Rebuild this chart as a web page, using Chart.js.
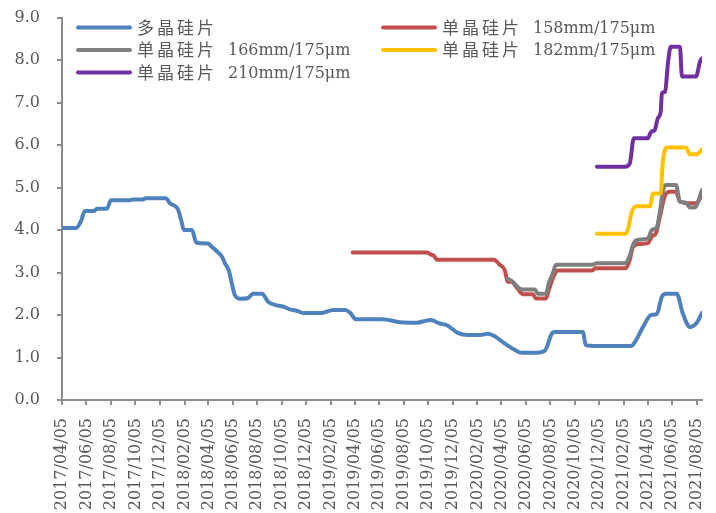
<!DOCTYPE html>
<html>
<head>
<meta charset="utf-8">
<script src="https://cdn.jsdelivr.net/npm/chart.js@4.4.1/dist/chart.umd.min.js"></script>
<style>
  html, body { margin: 0; padding: 0; background: #ffffff; }
  #wrap { width: 716px; height: 513px; }
</style>
</head>
<body>
<div id="wrap"><canvas id="c"></canvas></div>
<script>
// Wafer prices (元/片), weekly quotes, start 2017-04-05
const seriesNames = [
  '多晶硅片',
  '单晶硅片 158mm/175μm',
  '单晶硅片 166mm/175μm',
  '单晶硅片 182mm/175μm',
  '单晶硅片 210mm/175μm'
];
const seriesColors = ['#4F81BD', '#C0504D', '#7F7F7F', '#FFC000', '#7030A0'];

const tickLabels = [
  '2017/04/05','2017/06/05','2017/08/05','2017/10/05','2017/12/05',
  '2018/02/05','2018/04/05','2018/06/05','2018/08/05','2018/10/05','2018/12/05',
  '2019/02/05','2019/04/05','2019/06/05','2019/08/05','2019/10/05','2019/12/05',
  '2020/02/05','2020/04/05','2020/06/05','2020/08/05','2020/10/05','2020/12/05',
  '2021/02/05','2021/04/05','2021/06/05','2021/08/05'
];
const axisEndDate = '2021-08-18';

const polyDates = ['2017-04-05','2017-05-10','2017-05-22','2017-06-01','2017-06-24','2017-07-01','2017-07-26','2017-08-05','2017-09-22','2017-09-27','2017-10-24','2017-10-31','2017-12-20','2017-12-30','2018-01-14','2018-01-19','2018-01-27','2018-02-03','2018-02-23','2018-03-05','2018-03-13','2018-04-04','2018-04-14','2018-04-26','2018-05-09','2018-05-16','2018-05-26','2018-06-03','2018-06-10','2018-06-23','2018-07-13','2018-07-25','2018-08-17','2018-09-01','2018-09-18','2018-10-08','2018-10-23','2018-11-12','2018-11-27','2019-01-13','2019-02-10','2019-03-12','2019-03-24','2019-04-08','2019-06-14','2019-07-27','2019-09-07','2019-10-02','2019-10-12','2019-11-03','2019-11-21','2019-12-18','2020-01-12','2020-02-11','2020-03-02','2020-03-19','2020-04-13','2020-05-08','2020-05-26','2020-06-27','2020-07-22','2020-08-09','2020-08-16','2020-10-25','2020-11-01','2020-11-24','2021-02-22','2021-03-04','2021-03-24','2021-04-13','2021-04-27','2021-05-10','2021-05-20','2021-06-16','2021-07-01','2021-07-19','2021-08-05','2021-08-18'];
const polyPrices = [4.05,4.05,4.2,4.45,4.45,4.5,4.5,4.7,4.7,4.72,4.72,4.75,4.75,4.63,4.55,4.49,4.24,4.0,4.0,3.72,3.69,3.68,3.6,3.5,3.37,3.22,3.05,2.72,2.47,2.38,2.4,2.5,2.5,2.31,2.24,2.2,2.14,2.1,2.05,2.05,2.12,2.12,2.06,1.9,1.9,1.83,1.82,1.87,1.88,1.8,1.76,1.58,1.53,1.53,1.56,1.5,1.33,1.18,1.11,1.11,1.16,1.57,1.6,1.6,1.29,1.27,1.27,1.37,1.72,2.0,2.02,2.43,2.5,2.5,2.04,1.72,1.82,2.05];

const mono158Dates = ['2019-03-31','2019-10-02','2019-10-12','2019-10-19','2019-10-27','2020-03-17','2020-04-01','2020-04-13','2020-04-21','2020-05-01','2020-05-11','2020-05-21','2020-05-28','2020-06-22','2020-06-30','2020-07-25','2020-08-01','2020-08-19','2020-08-26','2020-11-16','2020-11-26','2021-02-09','2021-02-19','2021-02-27','2021-03-16','2021-04-05','2021-04-15','2021-04-25','2021-05-05','2021-05-18','2021-05-30','2021-06-14','2021-06-24','2021-07-19','2021-08-03','2021-08-18'];
const mono158Prices = [3.47,3.47,3.42,3.4,3.3,3.3,3.18,3.06,2.78,2.78,2.67,2.55,2.49,2.49,2.39,2.39,2.59,3.02,3.05,3.05,3.1,3.1,3.3,3.6,3.67,3.69,3.85,3.92,4.31,4.82,4.9,4.9,4.67,4.63,4.63,4.82];

const mono166Dates = ['2020-04-21','2020-05-03','2020-05-16','2020-05-26','2020-06-27','2020-07-05','2020-07-25','2020-08-01','2020-08-11','2020-08-19','2020-11-16','2020-11-29','2021-02-07','2021-02-19','2021-02-27','2021-03-08','2021-04-05','2021-04-15','2021-04-27','2021-05-05','2021-05-12','2021-05-20','2021-06-14','2021-06-24','2021-07-09','2021-07-19','2021-07-31','2021-08-18'];
const mono166Prices = [2.85,2.78,2.65,2.6,2.6,2.5,2.5,2.75,2.98,3.18,3.18,3.22,3.22,3.4,3.65,3.76,3.8,4.0,4.06,4.43,4.9,5.06,5.06,4.67,4.64,4.53,4.53,4.94];

const mono182Dates = ['2020-11-29','2021-02-07','2021-02-14','2021-02-24','2021-03-08','2021-04-10','2021-04-18','2021-05-07','2021-05-12','2021-05-22','2021-07-09','2021-07-19','2021-08-05','2021-08-18'];
const mono182Prices = [3.91,3.91,4.0,4.43,4.56,4.56,4.86,4.86,5.57,5.94,5.94,5.78,5.78,5.9];

const mono210Dates = ['2020-11-29','2021-02-07','2021-02-19','2021-03-01','2021-04-05','2021-04-13','2021-04-22','2021-04-30','2021-05-07','2021-05-10','2021-05-18','2021-05-25','2021-06-01','2021-06-24','2021-06-29','2021-08-03','2021-08-13','2021-08-18'];
const mono210Prices = [5.49,5.49,5.57,6.16,6.16,6.31,6.35,6.63,6.78,7.22,7.25,7.92,8.31,8.31,7.61,7.61,7.96,8.04];

// Day number relative to the first quote date
const ORIGIN = Date.UTC(2017, 3, 5);
function dayOf(s) {
  const p = s.split(/[-\/]/).map(Number);
  return Math.round((Date.UTC(p[0], p[1] - 1, p[2]) - ORIGIN) / 86400000);
}
function points(dates, values) {
  return dates.map((d, i) => ({ x: dayOf(d), y: values[i] }));
}

const seriesData = [
  points(polyDates, polyPrices),
  points(mono158Dates, mono158Prices),
  points(mono166Dates, mono166Prices),
  points(mono182Dates, mono182Prices),
  points(mono210Dates, mono210Prices)
];
const drawOrder = [4, 3, 2, 1, 0];

const TEXT = '#595959';
const AXIS = '#8C8C8C';
const LATIN = '"DejaVu Serif", serif';
const CJK = '"Noto Sans CJK SC", sans-serif';

// Two-column legend: series read left-to-right, top-to-bottom
const pairLegend = {
  id: 'pairLegend',
  afterDraw(chart) {
    const ctx = chart.ctx;
    const cols = [78, 383];
    const rows = [27.5, 50, 72.5];
    chart.data.datasets.forEach((ds, i) => {
      const x = cols[i % 2];
      const y = rows[Math.floor(i / 2)];
      ctx.save();
      ctx.strokeStyle = ds.borderColor;
      ctx.lineWidth = 4;
      ctx.lineCap = 'round';
      ctx.beginPath();
      ctx.moveTo(x, y);
      ctx.lineTo(x + 52, y);
      ctx.stroke();
      const sp = ds.label.indexOf(' ');
      const head = sp < 0 ? ds.label : ds.label.slice(0, sp);
      const tail = sp < 0 ? '' : ds.label.slice(sp + 1);
      ctx.fillStyle = TEXT;
      ctx.textBaseline = 'middle';
      ctx.textAlign = 'left';
      ctx.font = '17px ' + CJK;
      ctx.letterSpacing = '3px';
      ctx.fillText(head, x + 59, y);
      ctx.letterSpacing = '0px';
      if (tail) {
        ctx.font = '16px ' + LATIN;
        ctx.fillText(tail, x + 150, y + 1);
      }
      ctx.restore();
    });
  }
};

new Chart(document.getElementById('c'), {
  type: 'line',
  data: {
    datasets: seriesNames.map((name, i) => ({
      label: name,
      data: seriesData[i],
      borderColor: seriesColors[i],
      backgroundColor: seriesColors[i],
      borderWidth: 4,
      pointRadius: 0,
      fill: false,
      cubicInterpolationMode: 'monotone',
      borderCapStyle: 'round',
      borderJoinStyle: 'round',
      order: drawOrder[i]
    }))
  },
  options: {
    responsive: true,
    maintainAspectRatio: false,
    animation: false,
    layout: { padding: { top: 17.5, right: 14, left: 0, bottom: 0 } },
    plugins: {
      legend: { display: false },
      tooltip: { enabled: false }
    },
    scales: {
      x: {
        type: 'linear',
        min: 0,
        max: dayOf(axisEndDate),
        afterBuildTicks(scale) {
          scale.ticks = tickLabels.map(t => ({ value: dayOf(t) }));
        },
        afterFit(scale) {
          scale.height = 113;
          scale.paddingLeft = 0;
          scale.paddingRight = 0;
        },
        ticks: {
          autoSkip: false,
          minRotation: 90,
          maxRotation: 90,
          padding: 13,
          color: TEXT,
          font: { family: LATIN, size: 16 },
          callback(value) {
            const hit = tickLabels.find(t => dayOf(t) === value);
            return hit || '';
          }
        },
        grid: {
          display: true,
          drawOnChartArea: false,
          drawTicks: true,
          tickLength: 5,
          color: AXIS,
          lineWidth: 2
        },
        border: { display: true, color: AXIS, width: 2 }
      },
      y: {
        min: 0,
        max: 9,
        afterFit(scale) {
          scale.width = 62;
          scale.paddingTop = 0;
          scale.paddingBottom = 0;
        },
        ticks: {
          stepSize: 1,
          padding: 17,
          color: TEXT,
          font: { family: LATIN, size: 16 },
          callback(v) { return v.toFixed(1); }
        },
        grid: {
          display: true,
          drawOnChartArea: false,
          drawTicks: true,
          tickLength: 5,
          color: AXIS,
          lineWidth: 2
        },
        border: { display: true, color: AXIS, width: 2 }
      }
    }
  },
  plugins: [pairLegend]
});
</script>
</body>
</html>
